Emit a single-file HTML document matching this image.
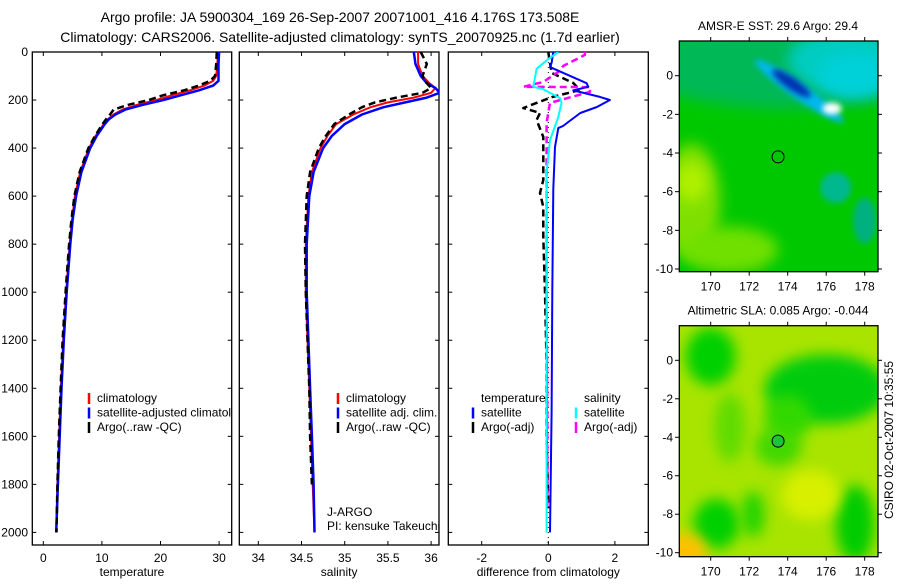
<!DOCTYPE html>
<html><head><meta charset="utf-8"><style>
body{margin:0;background:#fff;}
svg text{font-family:"Liberation Sans",sans-serif;fill:#000;}
</style></head><body>
<svg id="s" width="900" height="580" xmlns="http://www.w3.org/2000/svg">
<defs>
<filter id="bl" x="-50%" y="-50%" width="200%" height="200%"><feGaussianBlur stdDeviation="7"/></filter>
<filter id="bl2" x="-50%" y="-50%" width="200%" height="200%"><feGaussianBlur stdDeviation="3"/></filter>
<clipPath id="c1"><rect x="32" y="52" width="200" height="493"/></clipPath>
<clipPath id="c2"><rect x="239" y="52" width="200" height="493"/></clipPath>
<clipPath id="c3"><rect x="448" y="52" width="200" height="493"/></clipPath>
<clipPath id="m1"><rect x="679" y="41" width="199" height="231"/></clipPath>
<clipPath id="m2"><rect x="679" y="326" width="199" height="231"/></clipPath>
</defs>
<text x="340" y="22" font-size="14" text-anchor="middle">Argo profile: JA 5900304_169 26-Sep-2007 20071001_416 4.176S 173.508E</text>
<text x="340" y="42" font-size="14" text-anchor="middle">Climatology: CARS2006. Satellite-adjusted climatology: synTS_20070925.nc (1.7d earlier)</text>
<g id="maps"></g>
<g id="g"></g>
</svg>
<script>
// ---- data ----
const tDepth=[0,50,100,120,140,160,180,200,220,240,260,280,300,350,400,500,600,700,800,900,1000,1200,1400,1600,1800,2000];
const tClim=[29.8,29.7,29.5,29,27.5,25,22,19.3,16,13.5,12,11,10.3,8.9,7.8,6.3,5.4,4.9,4.5,4.2,3.9,3.4,3.0,2.7,2.4,2.2];
const tSat=[30.0,29.9,29.9,29.9,29.0,26.5,23.5,20.5,17,14,12.3,11.2,10.5,9.1,8.0,6.5,5.6,5.0,4.6,4.3,4.0,3.5,3.1,2.8,2.5,2.2];
const tArgo=[29.6,29.5,29.3,28.5,26.5,24,20.5,18,14.5,12,11.4,10.7,10.1,8.8,7.7,6.2,5.3,4.8,4.4,4.1,3.8,3.3,2.95,2.65,2.4,2.25];
const sDepth=[0,50,100,130,150,170,190,210,230,260,300,350,400,500,600,800,1000,1200,1400,1600,1800,2000];
const sClim=[35.85,35.85,35.9,35.98,36.05,36.0,35.8,35.5,35.3,35.1,34.9,34.8,34.72,34.62,34.58,34.55,34.55,34.57,34.59,34.61,34.63,34.65];
const sSat=[35.8,35.82,35.88,35.95,36.05,36.1,35.95,35.7,35.45,35.2,35.0,34.85,34.75,34.64,34.59,34.56,34.56,34.58,34.6,34.62,34.64,34.65];
const sArgo=[35.88,35.95,35.9,35.95,36.0,35.9,35.6,35.35,35.2,35.05,34.88,34.78,34.7,34.6,34.56,34.54,34.55,34.57,34.59,34.6,34.62,34.64];
const dtSatDepth=[0,45,63,130,145,160,187,200,229,254,308,317,395,570,1000,1500,2000];
const dtSatVal=[0.15,0.1,0.05,1.15,1.2,0.75,1.55,1.85,1.46,0.96,0.44,0.3,0.2,0.15,0.12,0.1,0.05];
const dsSatDepth=[0,29,70,145,155,192,212,270,367,500,1000,1500,2000];
const dsSatVal=[0.3,0,-0.35,-0.45,-0.15,0.35,0.4,0.3,0.05,-0.05,-0.05,-0.05,-0.05];
const dtArgoDepth=[0,87,129,158,188,233,254,283,354,533,587,645,770,1000,1300,1600,1900];
const dtArgoVal=[0,0.1,0.75,0.95,0.1,-0.75,-0.25,-0.35,-0.15,-0.15,-0.25,-0.15,-0.15,-0.1,-0.05,-0.05,0];
const dsArgoDepth=[0,12,58,83,125,145,146,166,212,295,500,1000,1500,1900];
const dsArgoVal=[1.1,1.1,0.45,0.3,-0.15,-0.75,1.25,1.25,0.05,-0.05,-0.05,-0.05,-0.03,-0.03];
const depthTicks=[0,200,400,600,800,1000,1200,1400,1600,1800,2000];
const tTicks=[0,10,20,30];
const sTicks=[34,34.5,35,35.5,36];
const dTicks=[-2,0,2];

const NS="http://www.w3.org/2000/svg";
const g=document.getElementById('g');
function el(tag,attrs,parent){const e=document.createElementNS(NS,tag);for(const k in attrs)e.setAttribute(k,attrs[k]);(parent||g).appendChild(e);return e;}
const yD=d=>52+d*0.2402;
const panels=[
 {x0:32.3,x1:231.7,sx:v=>43.3+5.86*v,ticks:tTicks,label:'temperature',clip:'c1',name:'temperature-panel'},
 {x0:239.3,x1:439,sx:v=>258.3+86.4*(v-34),ticks:sTicks,label:'salinity',clip:'c2',name:'salinity-panel'},
 {x0:448.3,x1:648.3,sx:v=>548.3+33.3*v,ticks:dTicks,label:'difference from climatology',clip:'c3',name:'difference-panel'}];
panels.forEach((p,i)=>{
 const pg=el('g',{});
 
 
 el('rect',{x:p.x0,y:52,width:p.x1-p.x0,height:493,fill:'none',stroke:'#000','stroke-width':1.3},pg);
 p.ticks.forEach(t=>{const x=p.sx(t);
  el('line',{x1:x,x2:x,y1:545,y2:541,stroke:'#000'},pg);
  el('line',{x1:x,x2:x,y1:52,y2:56,stroke:'#000'},pg);
  const tx=el('text',{x:x,y:562,'font-size':12,'text-anchor':'middle'},pg);tx.textContent=String(t);
  
  });
 depthTicks.forEach(d=>{const y=yD(d);
  el('line',{x1:p.x0,x2:p.x0+4,y1:y,y2:y,stroke:'#000'},pg);
  el('line',{x1:p.x1,x2:p.x1-4,y1:y,y2:y,stroke:'#000'},pg);
  if(i==0){const tx=el('text',{x:28,y:y+4,'font-size':12,'text-anchor':'end'},pg);tx.textContent=String(d);
   
   }});
 const xl=el('text',{x:(p.x0+p.x1)/2,y:576,'font-size':12,'text-anchor':'middle'},pg);xl.textContent=p.label;
 
 
});
function line(xs,ds,sx,clip,color,w,dash,name){
 const pts=xs.map((v,k)=>sx(v).toFixed(1)+','+yD(ds[k]).toFixed(1)).join(' ');
 const a={points:pts,fill:'none',stroke:color,'stroke-width':w,'clip-path':'url(#'+clip+')','stroke-linejoin':'round'};
 if(dash)a['stroke-dasharray']=dash;
 const e=el('polyline',a);
 
 
}
const P=panels;
line(tClim,tDepth,P[0].sx,'c1','#f00',2,null,'temperature-climatology-line');
line(tSat,tDepth,P[0].sx,'c1','#00f',2.5,null,'temperature-satellite-line');
line(tArgo,tDepth,P[0].sx,'c1','#000',2.5,'7,4','temperature-argo-line');
line(sClim,sDepth,P[1].sx,'c2','#f00',2,null,'salinity-climatology-line');
line(sSat,sDepth,P[1].sx,'c2','#00f',2.5,null,'salinity-satellite-line');
line(sArgo.slice(0,-1),sDepth.slice(0,-1),P[1].sx,'c2','#000',2.5,'7,4','salinity-argo-line');
el('line',{x1:P[2].sx(0),x2:P[2].sx(0),y1:52,y2:545,stroke:'#000','stroke-dasharray':'1,4'});
line(dtArgoVal,dtArgoDepth,P[2].sx,'c3','#000',2.5,'7,4','temperature-argo-diff-line');
line(dsArgoVal,dsArgoDepth,P[2].sx,'c3','#f0f',2.5,'7,4','salinity-argo-diff-line');
line(dtSatVal,dtSatDepth,P[2].sx,'c3','#00f',2,null,'temperature-satellite-diff-line');
line(dsSatVal,dsSatDepth,P[2].sx,'c3','#0ff',2,null,'salinity-satellite-diff-line');

function legend(x,y,items,clip){
 items.forEach((it,k)=>{const yy=y+k*14.5;
  if(it.c){const m=el('line',{x1:x,x2:x,y1:yy-9,y2:yy+2,stroke:it.c,'stroke-width':2.5});
   
   }
  const t=el('text',{x:x+8,y:yy,'font-size':12,'clip-path':clip?'url(#'+clip+')':''});t.textContent=it.t;
  
  });
}
legend(89,402,[{c:'#f00',t:'climatology'},{c:'#00f',t:'satellite-adjusted climatology'},{c:'#000',t:'Argo(..raw -QC)'}],'c1');
legend(338,402,[{c:'#f00',t:'climatology'},{c:'#00f',t:'satellite adj. clim.'},{c:'#000',t:'Argo(..raw -QC)'}],'c2');
legend(473,402,[{t:'temperature'},{c:'#00f',t:'satellite'},{c:'#000',t:'Argo(-adj)'}],'c3');
legend(576,402,[{t:'salinity'},{c:'#0ff',t:'satellite'},{c:'#f0f',t:'Argo(-adj)'}],'c3');
[['J-ARGO',516],['PI: kensuke Takeuchi',530]].forEach(a=>{const t=el('text',{x:327,y:a[1],'font-size':12,'clip-path':'url(#c2)'});t.textContent=a[0];
 
 });

// ---- maps ----
const lonTicks=[170,172,174,176,178];
const latTicks=[0,-2,-4,-6,-8,-10];
const mg=document.getElementById('maps');
function map(top,bottom,y0,y10,clip,base,blobs,title,circleFill,name){
 const m=el('g',{},mg);
 
 
 const mx=lon=>710.7+(lon-170)*19.25, my=lat=>y0+(y10-y0)*(lat/-10);
 const inner=el('g',{'clip-path':'url(#'+clip+')'},m);
 el('rect',{x:679,y:top,width:199,height:bottom-top,fill:base},inner);
 blobs.forEach(b=>el('ellipse',{cx:mx(b[0]),cy:my(b[1]),rx:b[2]*19.25,ry:b[3]*19.25,fill:b[4],filter:b[5]?'url(#bl2)':'url(#bl)',transform:b[6]?`rotate(${b[6]} ${mx(b[0])} ${my(b[1])})`:''},inner));
 el('rect',{x:679.3,y:top,width:198.7,height:bottom-top,fill:'none',stroke:'#000','stroke-width':1.3},m);
 lonTicks.forEach(l=>{const x=mx(l);el('line',{x1:x,x2:x,y1:bottom,y2:bottom+4,stroke:'#000'},m);el('line',{x1:x,x2:x,y1:top,y2:top-4,stroke:'#000'},m);
  const t=el('text',{x:x,y:bottom+19,'font-size':12,'text-anchor':'middle'},m);t.textContent=l;
  
  });
 latTicks.forEach(l=>{const y=my(l);el('line',{x1:679.3,x2:675,y1:y,y2:y,stroke:'#000'},m);el('line',{x1:878,x2:882,y1:y,y2:y,stroke:'#000'},m);
  const t=el('text',{x:673,y:y+4,'font-size':12,'text-anchor':'end'},m);t.textContent=l;
  
  });
 const tt=el('text',{x:778,y:top-11,'font-size':12,'text-anchor':'middle'},m);tt.textContent=title;
 
 
 const c=el('circle',{cx:mx(173.5),cy:my(-4.2),r:6,fill:circleFill,stroke:'#000','stroke-width':1},m);
 
 
}
map(41,271.7,75.7,269,'m1','#00c800',[
 [174,0.5,8,2.2,'#00b855'],[177,0.8,3,1.6,'#00ccc0'],[177.5,0,2,1.2,'#00d0d8'],
 [169,-6.5,1.5,3,'#80e000'],[171,-9,2.5,1.2,'#70e000'],[169,-5.5,0.8,1,'#b0f000'],
 [174.6,-0.8,2.8,0.4,'#00b8f0',1,35],[174.2,-0.4,1.2,0.3,'#0030b0',1,35],[176.3,-1.7,0.5,0.3,'#ffffff',1],
 [176.5,-5.8,0.8,0.8,'#00b890',1],[178,-7.5,0.6,1.2,'#00b080',1]
],'AMSR-E SST: 29.6 Argo: 29.4','none','sst-map');
map(325.7,556.7,360.3,552.7,'m2','#a8e400',[
 [170,0.2,1.3,1.5,'#00d000'],[176,-1.5,3.2,1.8,'#00cc10'],[174,-3,1.2,1.2,'#30d800'],
 [173.5,-4.5,1.2,1,'#40d800'],[170.3,-8.5,1.2,1.3,'#00d000'],[172.2,-8,0.6,1.2,'#20d400'],
 [177.5,-8.5,1,2,'#00cc00'],[175.2,-7,1.5,1.3,'#d8f000'],[168.6,-10,1.2,1,'#ffc000'],[171,-3.5,0.8,1.8,'#60dc00']
],'Altimetric SLA: 0.085 Argo: -0.044','#20c040','sla-map');
const cs=el('text',{x:0,y:0,'font-size':12,'text-anchor':'middle',transform:'translate(893,440) rotate(-90)'},mg);
cs.textContent='CSIRO 02-Oct-2007 10:35:55';


</script>
</body></html>
